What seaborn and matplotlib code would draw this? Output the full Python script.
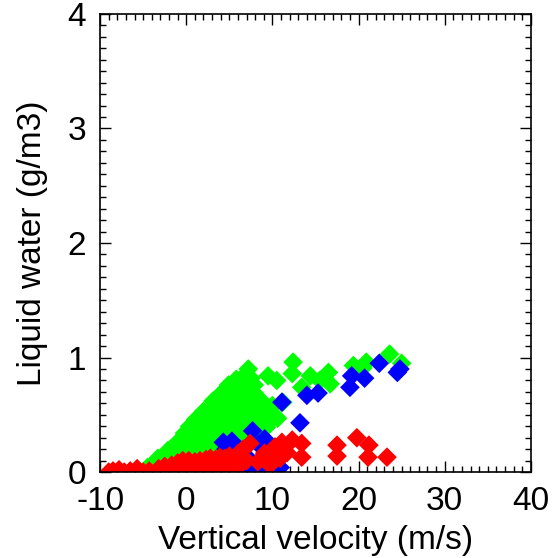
import matplotlib
matplotlib.use("Agg")
import matplotlib.pyplot as plt
import seaborn as sns
import pandas as pd
from matplotlib.ticker import MultipleLocator

# ---- data ----
green_v = [-4.5, -3.6, -3.3, -2.4, -1.4, -0.3, 0.6,
           -2.1, -1.2, -0.1, 0.9, 1.8, 2.7, 3.8,
           -0.9, 0.1, 1.0, 2.1, 3.0, 4.1, 5.0, 6.1,
           -0.2, 0.7, 1.8, 2.6, 3.7, 4.8, 5.6, 6.7, 7.8, 8.6,
           0.4, 1.3, 2.2, 3.4, 4.3, 5.2, 6.4, 7.3, 8.2, 9.3,
           1.1, 2.0, 3.1, 4.0, 5.1, 5.9, 7.0, 8.1, 9.0, 9.9,
           2.0, 2.9, 3.9, 4.8, 6.0, 6.9, 7.8, 8.8, 9.6,
           3.1, 4.0, 5.1, 6.0, 7.1, 8.0, 8.9,
           4.1, 5.0, 6.1, 7.0, 7.9,
           4.9, 5.9, 6.8, 7.9,
           5.8, 6.7, 7.5, 7.2,
           9.5, 10.5, 12.4, 12.3, 13.4, 14.4, 15.5, 16.5, 16.7,
           19.4, 20.5, 20.9, 23.6, 25.0, 10.6, 11.2, 10.0]
green_L = [0.04, 0.05, 0.12, 0.12, 0.13, 0.12, 0.13,
           0.19, 0.20, 0.19, 0.18, 0.20, 0.19, 0.20,
           0.27, 0.26, 0.27, 0.25, 0.27, 0.26, 0.28, 0.26,
           0.34, 0.33, 0.35, 0.33, 0.34, 0.33, 0.35, 0.33, 0.34, 0.33,
           0.40, 0.41, 0.39, 0.40, 0.41, 0.40, 0.39, 0.41, 0.40, 0.39,
           0.46, 0.47, 0.48, 0.46, 0.47, 0.48, 0.46, 0.47, 0.48, 0.46,
           0.53, 0.54, 0.55, 0.53, 0.54, 0.55, 0.53, 0.54, 0.56,
           0.62, 0.61, 0.62, 0.61, 0.62, 0.60, 0.61,
           0.69, 0.68, 0.70, 0.68, 0.69,
           0.76, 0.77, 0.75, 0.76,
           0.81, 0.84, 0.82, 0.90,
           0.84, 0.80, 0.96, 0.86, 0.74, 0.84, 0.80, 0.87, 0.77,
           0.93, 0.91, 0.96, 1.03, 0.95, 0.47, 0.61, 0.58]

blue_v = [4.3, 5.3, 4.6, 5.0, 7.7, 9.1, 8.4, 11.1, 13.2, 14.0, 15.3,
          19.0, 19.2, 20.7, 22.4, 24.5, 24.8,
          3.5, 5.0, 6.5, 8.0, 9.5, 10.9, 7.5]
blue_L = [0.26, 0.27, 0.20, 0.23, 0.36, 0.29, 0.24, 0.61, 0.43, 0.67, 0.69,
          0.74, 0.84, 0.82, 0.95, 0.87, 0.90,
          0.00, 0.03, 0.05, 0.02, 0.04, 0.04, 0.10]

red_v = [-9.0, -8.5, -7.8, -7.2, -6.5, -5.7, -5.0, -4.3, -3.2, -2.5, -1.7, -1.0,
         -0.4, 0.3, 1.0, 1.6, 2.3, 2.8, 3.4, 3.9, 4.5, 5.0, 5.5, 6.0, 6.6,
         -1.0, 0.0, 1.0, 2.0, 3.0, 4.0, 5.0, 6.0, 0.5, 7.0,
         7.4, 6.2, 6.5, 8.3, 9.5, 11.1, 12.3, 11.7, 10.3, 9.1, 13.4, 10.9,
         13.4, 9.7, 17.5, 17.5, 19.8, 21.2, 21.1, 23.3]
red_L = [0.00, 0.01, 0.02, 0.00, 0.01, 0.03, 0.00, 0.01, 0.03, 0.05, 0.06, 0.08,
         0.10, 0.10, 0.09, 0.10, 0.11, 0.12, 0.11, 0.13, 0.12, 0.14, 0.11, 0.16, 0.20,
         0.02, 0.03, 0.02, 0.04, 0.03, 0.05, 0.04, 0.06, 0.05, 0.10,
         0.25, 0.165, 0.08, 0.09, 0.15, 0.26, 0.28, 0.17, 0.22, 0.165, 0.25, 0.12,
         0.13, 0.06, 0.235, 0.14, 0.30, 0.235, 0.13, 0.13]

x_ticks = [-10, 0, 10, 20, 30, 40]
y_ticks = [0, 1, 2, 3, 4]

df = pd.concat([
    pd.DataFrame({"v": green_v, "L": green_L, "grp": "green"}),
    pd.DataFrame({"v": blue_v, "L": blue_L, "grp": "blue"}),
    pd.DataFrame({"v": red_v, "L": red_L, "grp": "red"}),
], ignore_index=True)

sns.set_style("ticks")
plt.rcParams["font.family"] = ["Liberation Sans", "DejaVu Sans"]
plt.rcParams["text.color"] = "black"
plt.rcParams["axes.labelcolor"] = "black"
plt.rcParams["xtick.color"] = "black"
plt.rcParams["ytick.color"] = "black"

fig = plt.figure(figsize=(5.53, 5.58), dpi=100)
ax = fig.add_axes([0.181, 0.154, 0.779, 0.821])

sns.scatterplot(data=df, x="v", y="L", hue="grp",
                palette={"green": "#00ff00", "blue": "#0000ff", "red": "#ff0000"},
                marker="D", s=100, linewidth=0, legend=False, ax=ax)

ax.set_xlim(-10, 40)
ax.set_ylim(0, 4)
ax.set_xticks(x_ticks)
ax.set_yticks(y_ticks)
ax.set_xticklabels([str(t) for t in x_ticks])
ax.set_yticklabels([str(t) for t in y_ticks])
ax.xaxis.set_minor_locator(MultipleLocator(1))
ax.yaxis.set_minor_locator(MultipleLocator(0.1))
ax.tick_params(which="both", direction="in", top=True, right=True,
               color="black", labelcolor="black", width=1)
ax.tick_params(which="major", length=8, labelsize=24, pad=10)
ax.tick_params(which="minor", length=4)
for sp in ax.spines.values():
    sp.set_color("black")
    sp.set_linewidth(1.2)

ax.set_xlabel("Vertical velocity (m/s)", fontsize=24, labelpad=6, color="black")
ax.set_ylabel("Liquid water (g/m3)", fontsize=24, labelpad=14, color="black")

fig.savefig("out.png", dpi=100)
